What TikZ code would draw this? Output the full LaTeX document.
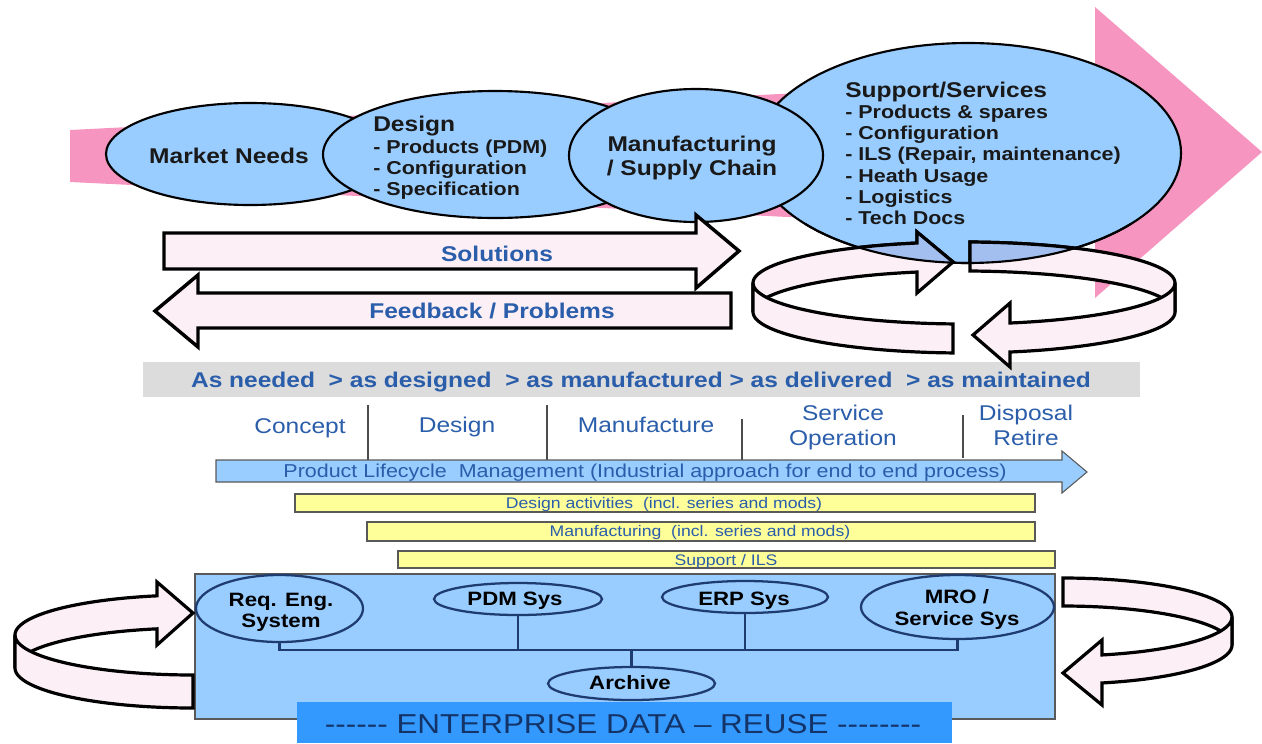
\documentclass[tikz,border=0pt]{standalone}
\usepackage{fontspec}
\setmainfont{Liberation Sans}[FakeStretch=1.15]
\usetikzlibrary{shapes.geometric,calc}
\definecolor{pinkA}{HTML}{F595C0}
\definecolor{ellblue}{HTML}{99CCFF}
\definecolor{txtblue}{HTML}{2A5DAA}
\definecolor{navy}{HTML}{1F3C70}
\definecolor{ringfill}{HTML}{FCEFF5}
\definecolor{bandgray}{HTML}{DCDCDC}
\definecolor{ylw}{HTML}{FFFF99}
\definecolor{entblue}{HTML}{3399FF}
\definecolor{enttext}{HTML}{143468}
\definecolor{overlapblue}{HTML}{A3BFEF}
\newcommand\myfs[2]{\fontsize{#1pt}{#2pt}\selectfont}
\newcommand\hy{\mbox{-}}
% top ring pieces
\newcommand\rAback{plot[domain=180:257.1,samples=40] ({964+211*cos(\x)},{283+41*sin(\x)}) -- (917,232) -- (953,262) -- (917,293) -- plot[domain=257.1:180,samples=40] ({964+211*cos(\x)},{312+41*sin(\x)}) -- cycle}
\newcommand\rAfront{plot[domain=93:180,samples=40] ({964+211*cos(\x)},{283+41*sin(\x)}) -- plot[domain=180:93,samples=40] ({964+211*cos(\x)},{312+41*sin(\x)}) -- cycle}
\newcommand\rBback{plot[domain=-88.4:0,samples=40] ({964+211*cos(\x)},{283+41*sin(\x)}) -- plot[domain=0:-88.4,samples=40] ({964+211*cos(\x)},{312+41*sin(\x)}) -- cycle}
\newcommand\rBfront{plot[domain=0:77.4,samples=40] ({964+211*cos(\x)},{283+41*sin(\x)}) -- (1010,303) -- (973,335) -- (1010,367) -- plot[domain=77.4:0,samples=40] ({964+211*cos(\x)},{312+41*sin(\x)}) -- cycle}
\begin{document}
\begin{tikzpicture}[x=0.75pt,y=-0.75pt,
  ell/.style={ellipse, draw=black, line width=1.6pt, fill=ellblue, inner sep=0pt},
  sysell/.style={ellipse, draw=navy, line width=1.7pt, fill=ellblue, inner sep=0pt},
  blockarrow/.style={draw=black, line width=2.6pt, fill=ringfill},
  ringpart/.style={draw=black, line width=2.4pt, fill=ringfill},
  bigtxt/.style={font=\myfs{16}{19}\bfseries, inner sep=0pt, text=black!90},
  midtxt/.style={font=\myfs{14}{17}\bfseries, inner sep=0pt, text=black!90},
  bluebig/.style={font=\myfs{16}{19}\bfseries, inner sep=0pt, text=txtblue},
  phase/.style={font=\myfs{16}{19}, inner sep=0pt, text=txtblue, anchor=base},
  systxt/.style={font=\myfs{14.5}{17}\bfseries, inner sep=0pt, text=black, anchor=base},
  ytxt/.style={font=\myfs{11.5}{14}, inner sep=0pt, text=txtblue, anchor=base},
  bus/.style={draw=navy, line width=1.7pt},
  thinbox/.style={draw=gray!70!black, line width=0.8pt}
]
\useasboundingbox (0,0) rectangle (1262,743);
% big pink arrow
\fill[pinkA] (70,130) -- (1095,78) -- (1095,7) -- (1262,152) -- (1095,298) -- (1095,232) -- (70,182) -- cycle;
% top ellipses
\node[ell, minimum width=319.5pt, minimum height=165pt] (sup) at (968,153) {};
\node[ell, minimum width=216pt, minimum height=76.5pt] (mkt) at (250,154) {};
\node[ell, minimum width=258pt, minimum height=95.25pt] (des) at (495,154.5) {};
\node[ell, minimum width=190.5pt, minimum height=99.75pt] (man) at (696,155.5) {};
% texts in ellipses
\node[bigtxt, anchor=base] (tmkt) at (229,163) {Market Needs};
\node[bigtxt, anchor=base west] (tdes) at (373,131) {Design};
\node[midtxt, anchor=base west] (tdes1) at (373,153) {- Products (PDM)};
\node[midtxt, anchor=base west] (tdes2) at (373,174) {- Configuration};
\node[midtxt, anchor=base west] (tdes3) at (373,195) {- Specification};
\node[bigtxt, anchor=base] (tman1) at (692,151) {Manufacturing};
\node[bigtxt, anchor=base] (tman2) at (692,175) {/ Supply Chain};
\node[bigtxt, anchor=base west] (tsup) at (845,97) {Support/Services};
\node[midtxt, anchor=base west] (tsup1) at (845,118) {- Products \& spares};
\node[midtxt, anchor=base west] (tsup2) at (845,139) {- Configuration};
\node[midtxt, anchor=base west] (tsup3) at (845,160) {- ILS (Repair, maintenance)};
\node[midtxt, anchor=base west] (tsup4) at (845,182) {- Heath Usage};
\node[midtxt, anchor=base west] (tsup5) at (845,203) {- Logistics};
\node[midtxt, anchor=base west] (tsup6) at (845,224) {- Tech Docs};
% solutions / feedback arrows
\draw[blockarrow] (164,233) -- (696,233) -- (696,215) -- (739,251) -- (696,288) -- (696,269) -- (164,269) -- cycle;
\draw[blockarrow] (731,293) -- (198,293) -- (198,275) -- (155,311) -- (198,347) -- (198,328) -- (731,328) -- cycle;
\node[bluebig, anchor=base] (tsol) at (497,261) {Solutions};
\node[bluebig, anchor=base] (tfb) at (492,318) {Feedback / Problems};
% gray band
\fill[bandgray] (143,362) rectangle (1140,397);
\node[bluebig, anchor=base] (tas) at (641,387) {As needed~ > as designed~ > as manufactured > as delivered~ > as maintained};
% top ring
\path[ringpart] \rAback;
\path[ringpart] \rBback;
\path[ringpart] \rAfront;
\path[ringpart] \rBfront;
\begin{scope}
  \clip (968,153) ellipse [x radius=213, y radius=110];
  \fill[overlapblue] \rAback;
  \fill[overlapblue] \rBback;
  \draw[black, line width=2.4pt] \rAback;
  \draw[black, line width=2.4pt] \rBback;
\end{scope}
\draw[black, line width=1.6pt] plot[domain=40:140,samples=40] ({968+213*cos(\x)},{153+110*sin(\x)});
% phases
\node[phase] (pc) at (300,433) {Concept};
\node[phase] (pd) at (457,432) {Design};
\node[phase] (pm) at (646,432) {Manufacture};
\node[phase] (ps1) at (843,420) {Service};
\node[phase] (ps2) at (843,445) {Operation};
\node[phase] (pr1) at (1026,420) {Disposal};
\node[phase] (pr2) at (1026,445) {Retire};
\draw[gray!60!black, line width=0.8pt] (368,405) -- (368,460);
\draw[gray!60!black, line width=0.8pt] (547,405) -- (547,460);
\draw[gray!60!black, line width=0.8pt] (742,419) -- (742,460);
\draw[gray!60!black, line width=0.8pt] (963,415) -- (963,458);
% PLM arrow
\draw[thinbox, fill=ellblue] (216,460) -- (1062,460) -- (1062,451) -- (1087,472) -- (1062,493) -- (1062,482) -- (216,482) -- cycle;
\node[font=\myfs{14}{17}, inner sep=0pt, text=txtblue, anchor=base] (tplm) at (645,477) {Product Lifecycle~ Management (Industrial approach for end to end process)};
% yellow bars
\draw[thinbox, fill=ylw] (295,494) rectangle (1035,512);
\draw[thinbox, fill=ylw] (367,522) rectangle (1035,541);
\draw[thinbox, fill=ylw] (398,551) rectangle (1055,568);
\node[ytxt] (y1) at (664,508) {Design activities~ (incl. series and mods)};
\node[ytxt] (y2) at (700,536) {Manufacturing~ (incl. series and mods)};
\node[ytxt] (y3) at (726,565) {Support / ILS};
% enterprise box
\draw[thinbox, fill=ellblue] (195,574) rectangle (1055,719);
\fill[entblue] (297,702) rectangle (952,743);
\node[font=\myfs{20.5}{24}, inner sep=0pt, text=enttext, anchor=base] (tent) at (623,733) {\hy\hy\hy\hy\hy\hy{} ENTERPRISE DATA – REUSE \hy\hy\hy\hy\hy\hy\hy\hy};
% system ellipses
\node[sysell, minimum width=125.25pt, minimum height=50.25pt] (req) at (279.5,608.5) {};
\node[sysell, minimum width=126pt, minimum height=24pt] (pdm) at (518,599) {};
\node[sysell, minimum width=124.5pt, minimum height=24pt] (erp) at (745,597) {};
\node[sysell, minimum width=144.75pt, minimum height=48pt] (mro) at (957.5,607) {};
\node[sysell, minimum width=125.25pt, minimum height=24.75pt] (arch) at (631.5,683.5) {};
\coordinate (bus) at (276,650);
\draw[bus] (req.south) -- (req.south |- bus) -| (mro.south);
\draw[bus] (pdm.south) -- (pdm.south |- bus);
\draw[bus] (erp.south) -- (erp.south |- bus);
\draw[bus] (arch.north) -- (arch.north |- bus);
\node[systxt] (treq1) at (281,606) {Req. Eng.};
\node[systxt] (treq2) at (281,627) {System};
\node[systxt] (tpdm) at (515,605) {PDM Sys};
\node[systxt] (terp) at (744,605) {ERP Sys};
\node[systxt] (tmro1) at (957,603) {MRO /};
\node[systxt] (tmro2) at (957,625) {Service Sys};
\node[systxt] (tarch) at (630,689) {Archive};
% left ring
\path[ringpart] plot[domain=180:258.3,samples=40] ({193+178*cos(\x)},{635+40*sin(\x)}) -- (157,582) -- (193,613) -- (157,645) -- plot[domain=258.3:180,samples=40] ({193+178*cos(\x)},{668+40*sin(\x)}) -- cycle;
\path[ringpart] plot[domain=90:180,samples=40] ({193+178*cos(\x)},{635+40*sin(\x)}) -- plot[domain=180:90,samples=40] ({193+178*cos(\x)},{668+40*sin(\x)}) -- cycle;
% right ring
\path[ringpart] plot[domain=-90:0,samples=40] ({1063+169*cos(\x)},{617+39*sin(\x)}) -- plot[domain=0:-90,samples=40] ({1063+169*cos(\x)},{645+39*sin(\x)}) -- cycle;
\path[ringpart] plot[domain=0:76.7,samples=40] ({1063+169*cos(\x)},{617+39*sin(\x)}) -- (1102,640) -- (1063,673) -- (1102,705) -- plot[domain=76.7:0,samples=40] ({1063+169*cos(\x)},{645+39*sin(\x)}) -- cycle;
\end{tikzpicture}
\end{document}
